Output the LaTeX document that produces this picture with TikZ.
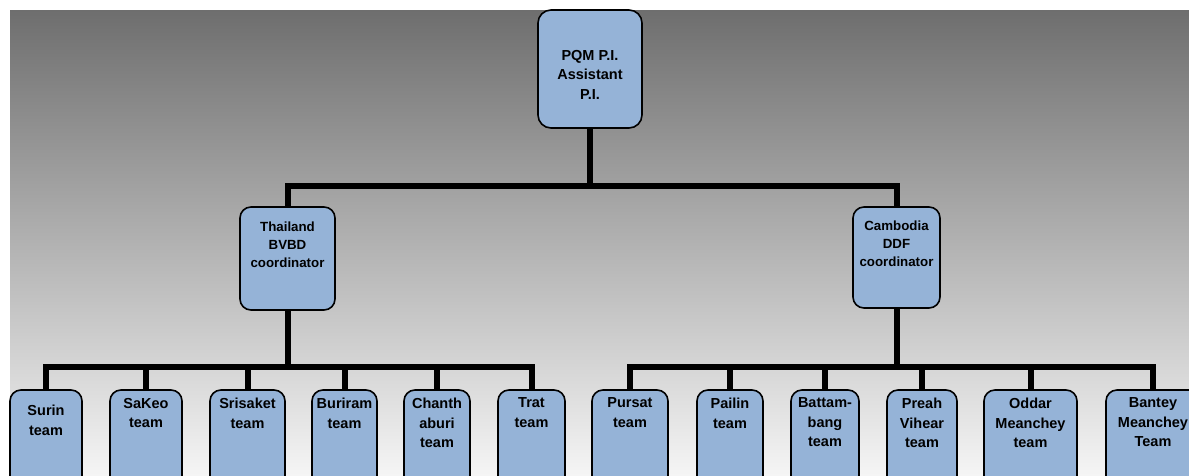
\documentclass[tikz,border=0pt]{standalone}
\usepackage{fontspec}
\setmainfont{Liberation Sans}
\usepackage{tikz}
\definecolor{boxblue}{RGB}{149,179,215}
\definecolor{bgtop}{RGB}{110,110,110}
\definecolor{bgmid}{RGB}{188,188,188}
\definecolor{bgbot}{RGB}{245,245,245}
\newcommand{\boxtext}[4]{\parbox[c][#2pt][t]{#3pt}{\centering\vspace*{#1pt}#4\par}}

\begin{document}
\begin{tikzpicture}[x=1pt,y=-1pt,
		unit/.style={draw=black,line width=1.6pt,fill=boxblue,rounded corners=11pt,inner sep=0pt,
			font=\fontsize{14.5}{19.5}\selectfont\bfseries},
		coord/.style={unit,font=\fontsize{13.3}{18}\selectfont\bfseries},
		link/.style={line width=6pt}]
		% frame
		\clip (0,0) rectangle (1189,475);
		\fill[top color=bgtop,middle color=bgmid,bottom color=bgbot] (10,10) rectangle (1189,475);
		% P.I. and coordinators
		\node[unit,rounded corners=13pt] (PI) at (590,69) {\boxtext{40}{118}{104}{PQM P.I.\\Assistant\\P.I.}};
		\node[coord] (TH) at (287.5,258.5) {\boxtext{15}{103}{95}{Thailand\\BVBD\\coordinator}};
		\node[coord] (KH) at (896.5,257.5) {\boxtext{14}{101}{87}{Cambodia\\DDF\\coordinator}};
		% Thailand teams
		\node[unit] (Surin) at (46,440) {\boxtext{15}{100}{72}{Surin\\team}};
		\node[unit] (SaKeo) at (146,440) {\boxtext{8}{100}{72}{SaKeo\\team}};
		\node[unit] (Srisaket) at (247.5,440) {\boxtext{8}{100}{75}{Srisaket\\team}};
		\node[unit] (Buriram) at (344.5,440) {\boxtext{8}{100}{65}{Buriram\\team}};
		\node[unit] (Chanth) at (437,440) {\boxtext{8}{100}{66}{Chanth\\aburi\\team}};
		\node[unit] (Trat) at (531.5,440) {\boxtext{8}{100}{67}{Trat\\team}};
		% Cambodia teams
		\node[unit] (Pursat) at (630,440) {\boxtext{8}{100}{76}{Pursat\\team}};
		\node[unit] (Pailin) at (730,440) {\boxtext{8}{100}{66}{Pailin\\team}};
		\node[unit] (Battam) at (825,440) {\boxtext{8}{100}{68}{Battam-\\bang\\team}};
		\node[unit] (Preah) at (922,440) {\boxtext{8}{100}{70}{Preah\\Vihear\\team}};
		\node[unit] (Oddar) at (1030.5,440) {\boxtext{8}{100}{93}{Oddar\\Meanchey\\team}};
		\node[unit] (Bantey) at (1153,440) {\boxtext{8}{100}{94}{Bantey\\Meanchey\\Team}};
		% links
		\draw[link] (PI.south) -- ++(0,57) -| (TH.north);
		\draw[link] (PI.south) -- ++(0,57) -| (KH.north);
		\draw[link] (TH.south) -- ++(0,56) -| (Surin.north);
		\draw[link] (TH.south) -- ++(0,56) -| (SaKeo.north);
		\draw[link] (TH.south) -- ++(0,56) -| (Srisaket.north);
		\draw[link] (TH.south) -- ++(0,56) -| (Buriram.north);
		\draw[link] (TH.south) -- ++(0,56) -| (Chanth.north);
		\draw[link] (TH.south) -- ++(0,56) -| (Trat.north);
		\draw[link] (KH.south) -- ++(0,58) -| (Pursat.north);
		\draw[link] (KH.south) -- ++(0,58) -| (Pailin.north);
		\draw[link] (KH.south) -- ++(0,58) -| (Battam.north);
		\draw[link] (KH.south) -- ++(0,58) -| (Preah.north);
		\draw[link] (KH.south) -- ++(0,58) -| (Oddar.north);
		\draw[link] (KH.south) -- ++(0,58) -| (Bantey.north);
	\end{tikzpicture}
\end{document}
